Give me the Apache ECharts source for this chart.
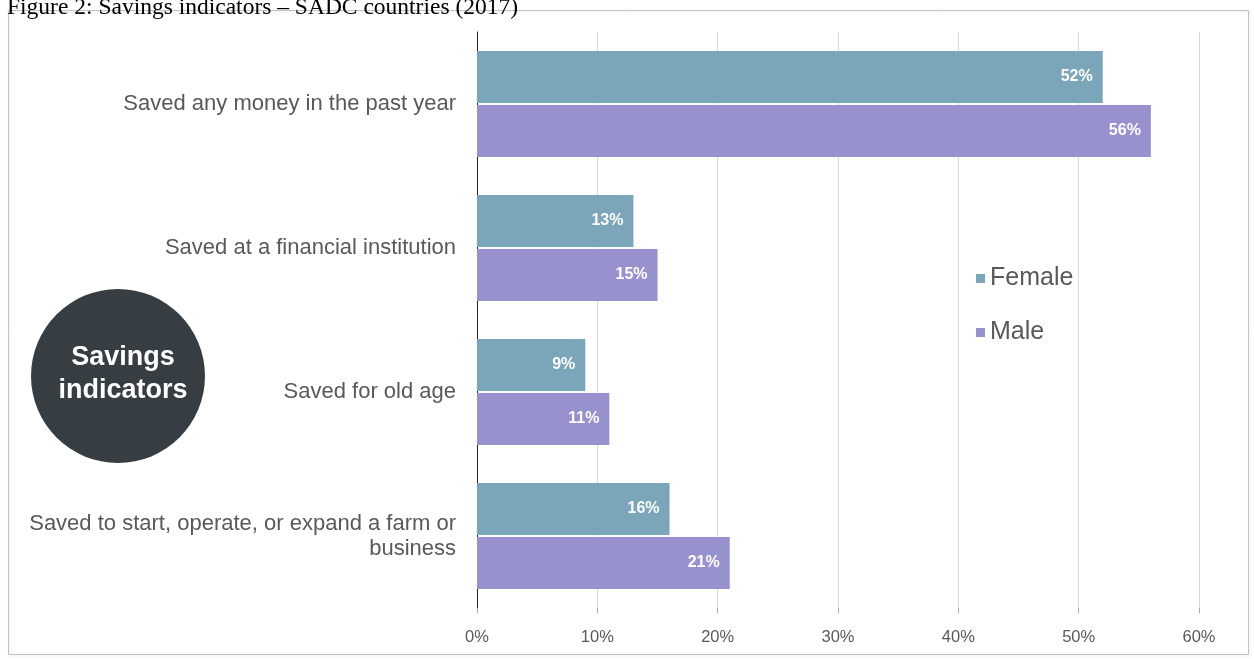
<!DOCTYPE html>
<html>
<head>
<meta charset="utf-8">
<script src="https://cdn.jsdelivr.net/npm/echarts@6/dist/echarts.min.js"></script>
<style>
  html, body { margin: 0; padding: 0; background: #ffffff; }
  #chart { width: 1254px; height: 659px; }
</style>
</head>
<body>
<div id="chart"></div>
<script>
// Savings indicators by sex, SADC countries (2017)
const categories = [
  'Saved any money in the past year',
  'Saved at a financial institution',
  'Saved for old age',
  'Saved to start, operate, or expand a farm or\nbusiness'
];
const femaleValues = [52, 13, 9, 16];
const maleValues = [56, 15, 11, 21];
const seriesNames = ['Female', 'Male'];
const axisMax = 60;
const axisStep = 10;

const chart = echarts.init(document.getElementById('chart'), null, { renderer: 'canvas' });

const barLabel = {
  show: true,
  position: 'insideRight',
  distance: 10,
  color: '#ffffff',
  fontFamily: 'Liberation Sans',
  fontWeight: 'bold',
  fontSize: 16,
  formatter: p => p.value + '%'
};

chart.setOption({
  animation: false,
  backgroundColor: '#ffffff',
  title: {
    text: 'Figure 2: Savings indicators – SADC countries (2017)',
    left: 2,
    top: -9,
    textStyle: {
      fontFamily: 'Liberation Serif',
      fontWeight: 'normal',
      fontSize: 23.5,
      color: '#000000'
    }
  },
  legend: {
    data: seriesNames,
    orient: 'vertical',
    left: 971,
    top: 261,
    icon: 'rect',
    itemWidth: 9,
    itemHeight: 9,
    itemGap: 29,
    textStyle: {
      fontFamily: 'Liberation Sans',
      fontSize: 25,
      color: '#595959'
    }
  },
  grid: {
    left: 477,
    right: 55,
    top: 32,
    bottom: 51,
    containLabel: false
  },
  xAxis: {
    type: 'value',
    min: 0,
    max: axisMax,
    interval: axisStep,
    axisLine: { show: false },
    axisTick: { show: true, length: 5, lineStyle: { color: '#a6a6a6' } },
    splitLine: { show: true, lineStyle: { color: '#d9d9d9', width: 1 } },
    axisLabel: {
      margin: 21,
      fontFamily: 'Liberation Sans',
      fontSize: 16.5,
      color: '#595959',
      formatter: v => v + '%'
    }
  },
  yAxis: {
    type: 'category',
    data: categories,
    inverse: true,
    axisLine: { show: true, lineStyle: { color: '#262626', width: 1 } },
    axisTick: { show: false },
    axisLabel: {
      margin: 21,
      fontFamily: 'Liberation Sans',
      fontSize: 22,
      lineHeight: 25,
      color: '#595959',
      align: 'right'
    }
  },
  series: [
    {
      name: seriesNames[0],
      type: 'bar',
      data: femaleValues,
      barWidth: 52,
      barGap: '4%',
      itemStyle: { color: '#7ba5b9' },
      label: barLabel
    },
    {
      name: seriesNames[1],
      type: 'bar',
      data: maleValues,
      barWidth: 52,
      barGap: '4%',
      itemStyle: { color: '#9791cd' },
      label: barLabel
    }
  ],
  graphic: [
    {
      type: 'rect',
      silent: true,
      z: -10,
      shape: { x: 8.5, y: 10.5, width: 1240, height: 644 },
      style: {
        fill: 'none',
        stroke: '#c4c4c4',
        lineWidth: 1,
        shadowColor: 'rgba(0,0,0,0.12)',
        shadowBlur: 3,
        shadowOffsetX: 1,
        shadowOffsetY: 1
      }
    },
    {
      type: 'group',
      left: 31,
      top: 289,
      children: [
        {
          type: 'circle',
          shape: { cx: 87, cy: 87, r: 87 },
          style: { fill: '#363e43' }
        },
        {
          type: 'text',
          x: 92,
          y: 85,
          style: {
            text: 'Savings\nindicators',
            fill: '#ffffff',
            fontFamily: 'Liberation Sans',
            fontWeight: 'bold',
            fontSize: 27,
            lineHeight: 33,
            align: 'center',
            verticalAlign: 'middle'
          }
        }
      ]
    }
  ]
});
</script>
</body>
</html>
